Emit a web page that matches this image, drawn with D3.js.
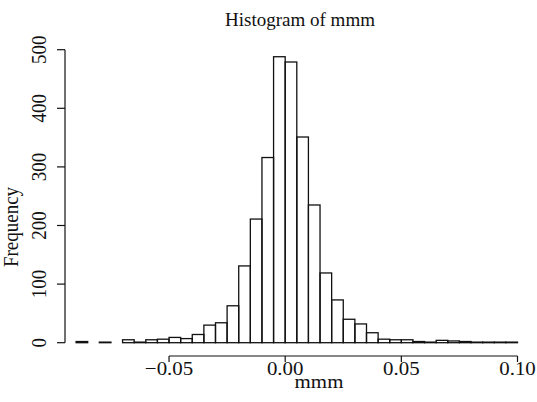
<!DOCTYPE html>
<html>
<head>
<meta charset="utf-8">
<script src="https://cdn.jsdelivr.net/npm/d3@7"></script>
<style>
  body { margin: 0; background: #fff; }
  text { font-family: "Liberation Serif", "Times New Roman", serif; fill: #111; }
</style>
</head>
<body>
<script>
// bin left edges (width 0.005) and counts
var binStart = -0.09;
var binWidth = 0.005;
var counts = [2, 0, 1, 0, 5, 1, 5, 6, 9, 7, 14, 30, 34, 63, 131, 211, 316, 488,
              479, 351, 235, 119, 73, 40, 32, 17, 6, 5, 5, 2, 1, 4, 3, 2, 1, 1, 1, 1];
var xTicks = [-0.05, 0, 0.05, 0.10];
var xTickLabels = ["\u22120.05", "0.00", "0.05", "0.10"];
var yTicks = [0, 100, 200, 300, 400, 500];

var width = 537, height = 402;
var sx = 1.1; // picture is a little stretched sideways
var fs = 19;

var svg = d3.select("body").append("svg")
    .attr("width", width)
    .attr("height", height)

var x = d3.scaleLinear().domain([-0.09, 0.10]).range([76.1, 517.5]);
var y = d3.scaleLinear().domain([0, 500]).range([342.7, 49.7]);

var bins = counts.map(function(c, i) {
    return {x0: binStart + i * binWidth, x1: binStart + (i + 1) * binWidth, n: c};
});

svg.append("g")
    .selectAll("rect")
    .data(bins)
    .enter()
    .append("rect")
        .attr("x", function(d) { return x(d.x0); })
        .attr("y", function(d) { return y(d.n); })
        .attr("width", function(d) { return x(d.x1) - x(d.x0); })
        .attr("height", function(d) { return y(0) - y(d.n); })
        .attr("fill", "none")
        .attr("stroke", "#111")
        .attr("stroke-width", 1.3);

// x axis (R style: line spans first to last tick)
var xAxis = svg.append("g").attr("transform", "translate(0,356)");
xAxis.append("line")
    .attr("x1", x(xTicks[0])).attr("x2", x(xTicks[xTicks.length - 1]))
    .attr("stroke", "#111").attr("stroke-width", 1.2);
xAxis.selectAll(".tk").data(xTicks).enter().append("line")
    .attr("x1", function(d) { return x(d); }).attr("x2", function(d) { return x(d); })
    .attr("y1", 0).attr("y2", 6)
    .attr("stroke", "#111").attr("stroke-width", 1.2);
xAxis.selectAll("text").data(xTicks).enter().append("text")
    .attr("transform", function(d) { return "translate(" + x(d) + ",19) scale(" + sx + ",1)"; })
    .attr("text-anchor", "middle")
    .attr("font-size", fs)
    .text(function(d, i) { return xTickLabels[i]; });

// y axis
var yAxis = svg.append("g").attr("transform", "translate(65,0)");
yAxis.append("line")
    .attr("y1", y(0)).attr("y2", y(500))
    .attr("stroke", "#111").attr("stroke-width", 1.2);
yAxis.selectAll(".tk").data(yTicks).enter().append("line")
    .attr("y1", function(d) { return y(d); }).attr("y2", function(d) { return y(d); })
    .attr("x1", -8).attr("x2", 0)
    .attr("stroke", "#111").attr("stroke-width", 1.2);
yAxis.selectAll("text").data(yTicks).enter().append("text")
    .attr("transform", function(d) { return "translate(-19," + y(d) + ") scale(" + sx + ",1) rotate(-90)"; })
    .attr("text-anchor", "middle")
    .attr("font-size", fs)
    .text(function(d) { return d; });

// titles
svg.append("text")
    .attr("transform", "translate(300,26)")
    .attr("text-anchor", "middle")
    .attr("font-size", fs)
    .text("Histogram of mmm");

svg.append("text")
    .attr("transform", "translate(319,388) scale(" + sx + ",1)")
    .attr("text-anchor", "middle")
    .attr("font-size", fs)
    .text("mmm");

svg.append("text")
    .attr("transform", "translate(18,227) scale(" + sx + ",1) rotate(-90)")
    .attr("text-anchor", "middle")
    .attr("font-size", fs)
    .text("Frequency");
</script>
</body>
</html>
